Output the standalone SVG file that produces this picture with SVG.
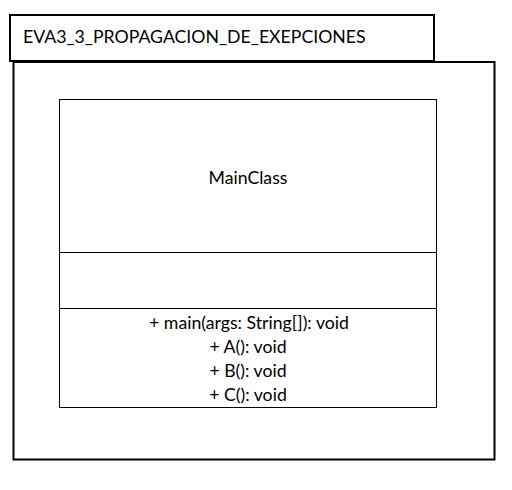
<svg xmlns="http://www.w3.org/2000/svg" width="512" height="490" viewBox="0 0 512 490">
<style>
.pk{fill:#fff;stroke:#000;stroke-width:2}
.cl{fill:#fff;stroke:#000;stroke-width:1}
text{font-family:"Lato","Open Sans","Liberation Sans",sans-serif;font-size:17.7px;fill:#000}
.c{text-anchor:middle}
</style>
<rect width="512" height="490" fill="#fff"/>
<g id="package">
<rect class="pk" x="10" y="15" width="424" height="46"/>
<rect class="pk" x="13.5" y="62" width="481" height="397.5"/>
<text x="23" y="43">EVA3_3_PROPAGACION_DE_EXEPCIONES</text>
</g>
<g id="MainClass">
<rect class="cl" x="59.5" y="99.5" width="377" height="308"/>
<line class="cl" x1="59.5" y1="252.5" x2="436.5" y2="252.5"/>
<line class="cl" x1="59.5" y1="308.5" x2="436.5" y2="308.5"/>
<text class="c" x="248" y="184">MainClass</text>
<text class="c" x="249" y="329">+ main(args: String[]): void</text>
<text class="c" x="248" y="353">+ A(): void</text>
<text class="c" x="248" y="377">+ B(): void</text>
<text class="c" x="248" y="401">+ C(): void</text>
</g>
<g id="connectors"/>
</svg>
